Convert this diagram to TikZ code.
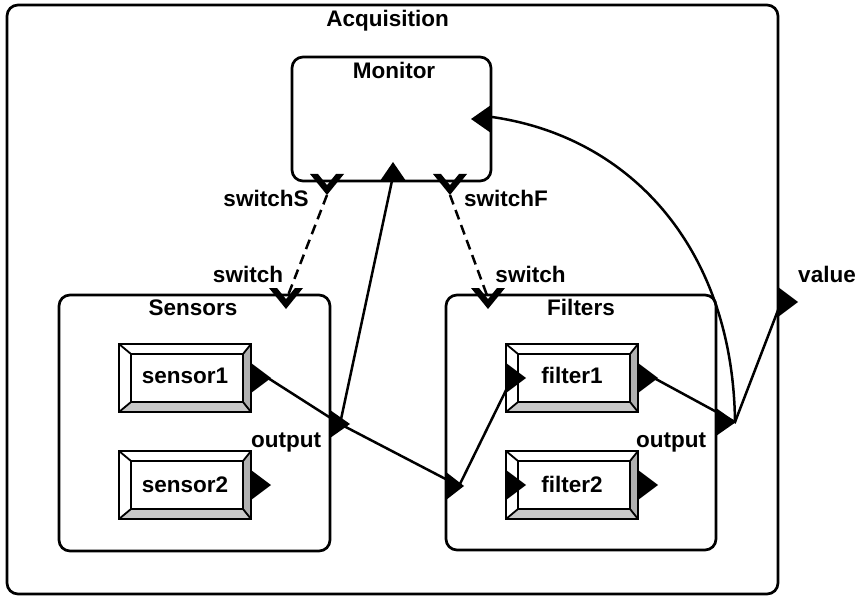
\documentclass[tikz,border=0pt]{standalone}
\usepackage{fontspec}
\setmainfont{Liberation Sans}
\newcommand{\bevbox}[5]{% name, cx, cy, text, baseline offset
  \begin{scope}[shift={(#2,#3)}]
    \fill[white] (-66,-34) -- (66,-34) -- (58,-24) -- (-54,-24) -- cycle;
    \fill[white] (-66,-34) -- (-54,-24) -- (-54,24) -- (-66,34) -- cycle;
    \fill[bevR] (66,-34) -- (66,34) -- (58,24) -- (58,-24) -- cycle;
    \fill[bevB] (-66,34) -- (66,34) -- (58,24) -- (-54,24) -- cycle;
  \end{scope}
  \node[draw, bev, minimum width=132, minimum height=68, inner sep=0] (#1) at (#2,#3) {};
  \begin{scope}[shift={(#2,#3)}]
    \draw[bev] (-54,-24) rectangle (58,24);
    \draw[bev] (-66,-34) -- (-54,-24) (66,-34) -- (58,-24) (66,34) -- (58,24) (-66,34) -- (-54,24);
  \end{scope}
  \node[lbl] (#1t) at (#2,#3+#5) {#4};}
\newcommand{\rtri}[3]{\fill (#1,#2-#3) -- (#1+20,#2) -- (#1,#2+#3) -- cycle;}
\newcommand{\ltri}[3]{\fill (#1,#2-#3) -- (#1-20,#2) -- (#1,#2+#3) -- cycle;}
\newcommand{\chev}[2]{\fill (#1-17,#2-7) -- (#1,#2+14) -- (#1+17,#2-7) -- (#1+9,#2-7) -- (#1,#2+4.1) -- (#1-9,#2-7) -- cycle;}
\definecolor{bevR}{HTML}{B0B0B0}
\definecolor{bevB}{HTML}{C8C8C8}
\begin{document}
\begin{tikzpicture}[x=1pt,y=-1pt,
  lbl/.style={font=\fontsize{22.5}{26}\selectfont\bfseries, inner sep=0, anchor=base},
  frame/.style={draw, line width=2.7, rounded corners=11, inner sep=0},
  conn/.style={line width=2.5},
  sig/.style={line width=2.5, dash pattern=on 10 off 6},
  bev/.style={line width=1.8}]
\useasboundingbox (0,0) rectangle (865,596);
\fill[white] (0,0) rectangle (865,596);

% containers
\node[frame, minimum width=771, minimum height=589] (acq) at (392.5,299.5) {};
\node[frame, minimum width=199, minimum height=124] (mon) at (391.5,119) {};
\node[frame, minimum width=271, minimum height=256] (sens) at (194.5,423) {};
\node[frame, minimum width=270, minimum height=255] (filt) at (581,422.5) {};

% inner components
\bevbox{s1}{185}{378}{sensor1}{5.5}
\bevbox{s2}{185}{485}{sensor2}{7}
\bevbox{f1}{572}{378}{filter1}{5.5}
\bevbox{f2}{572}{485}{filter2}{7}

% ports
\rtri{251}{378}{15}
\rtri{251}{485}{15}
\rtri{506}{378}{15}
\rtri{638}{378}{15}
\rtri{506}{485}{15}
\rtri{638}{485}{15}
\rtri{330}{424}{14}
\fill (446,472) -- (464,486) -- (446,500) -- cycle;
\rtri{716}{422}{14}
\rtri{778}{302}{15}
\ltri{491}{119}{14}
\fill (380,181) -- (393,162) -- (406,181) -- cycle;
\chev{327}{181}
\chev{450}{181}
\chev{286}{295}
\chev{488}{295}

% port coordinates
\coordinate (s1o) at (268,378);
\coordinate (so) at (340,424);
\coordinate (fi) at (459,486);
\coordinate (f1i) at (512,378);
\coordinate (f1o) at (654,378);
\coordinate (fo) at (735,422);
\coordinate (val) at (780,305);
\coordinate (mi) at (393,176);
\coordinate (mr) at (492,117);
\coordinate (msS) at (327,195);
\coordinate (msF) at (450,195);
\coordinate (ssw) at (287,298);
\coordinate (fsw) at (488,298);

% connectors
\draw[conn] (s1o) -- (so) -- (fi) -- (f1i);
\draw[conn] (so) -- (mi);
\draw[conn] (f1o) -- (fo) -- (val);
\draw[conn] (fo) .. controls (733,250) and (632,137) .. (mr);
\draw[sig] (msS) -- (ssw);
\draw[sig] (msF) -- (fsw);

% labels
\node[lbl] (tacq) at (387.5,27) {Acquisition};
\node[lbl] (tmon) at (394,79) {Monitor};
\node[lbl] (tss) at (266,207) {switchS};
\node[lbl] (tsf) at (506,207) {switchF};
\node[lbl] (tsw1) at (248,283) {switch};
\node[lbl] (tsw2) at (530.5,283) {switch};
\node[lbl] (tsen) at (193,315) {Sensors};
\node[lbl] (tfil) at (581,315) {Filters};
\node[lbl] (tout1) at (286,447) {output};
\node[lbl] (tout2) at (671,447) {output};
\node[lbl] (tval) at (827,283) {value};
\end{tikzpicture}
\end{document}
